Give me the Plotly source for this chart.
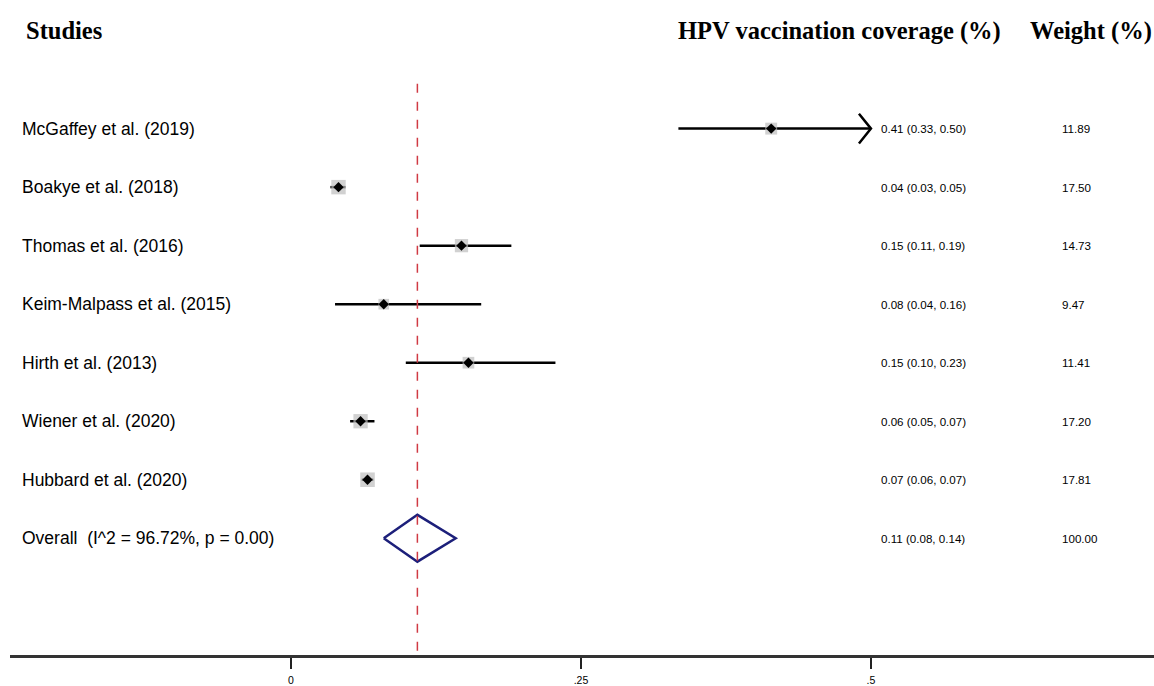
import plotly.graph_objects as go

# ---- data ----
studies = ["McGaffey et al. (2019)", "Boakye et al. (2018)", "Thomas et al. (2016)",
           "Keim-Malpass et al. (2015)", "Hirth et al. (2013)", "Wiener et al. (2020)",
           "Hubbard et al. (2020)"]
est = [0.414, 0.041, 0.147, 0.080, 0.153, 0.060, 0.066]
lo = [0.334, 0.034, 0.111, 0.038, 0.099, 0.051, 0.061]
hi = [0.503, 0.047, 0.190, 0.164, 0.228, 0.072, 0.071]
ci_text = ["0.41 (0.33, 0.50)", "0.04 (0.03, 0.05)", "0.15 (0.11, 0.19)",
           "0.08 (0.04, 0.16)", "0.15 (0.10, 0.23)", "0.06 (0.05, 0.07)",
           "0.07 (0.06, 0.07)"]
weights = [11.89, 17.50, 14.73, 9.47, 11.41, 17.20, 17.81]
overall_label = "Overall  (I^2 = 96.72%, p = 0.00)"
overall_est, overall_lo, overall_hi = 0.109, 0.080, 0.142
overall_text = "0.11 (0.08, 0.14)"
overall_weight = "100.00"
tick_vals = [0, 0.25, 0.5]
tick_text = ["0", ".25", ".5"]
axis_max = 0.5

rows = list(range(1, len(studies) + 1))
overall_row = len(studies) + 1

fig = go.Figure()

# CI lines (clipped at axis_max, with open arrow if truncated)
for r, l, h in zip(rows, lo, hi):
    fig.add_trace(go.Scatter(x=[l, min(h, axis_max)], y=[r, r], mode="lines",
                             line=dict(color="black", width=2.5), hoverinfo="skip",
                             showlegend=False))
    if h > axis_max:
        dx = 12 / 1160
        dy = 15 / 58.7
        fig.add_trace(go.Scatter(x=[axis_max - dx, axis_max, axis_max - dx],
                                 y=[r - dy, r, r + dy], mode="lines",
                                 line=dict(color="black", width=2.5), hoverinfo="skip",
                                 showlegend=False))

# weight boxes
fig.add_trace(go.Scatter(x=est, y=rows, mode="markers",
                         marker=dict(symbol="square", color="#bdbdbd",
                                     size=[3.45 * w ** 0.5 for w in weights],
                                     line=dict(width=0)),
                         hoverinfo="skip", showlegend=False))
# point estimates
fig.add_trace(go.Scatter(x=est, y=rows, mode="markers",
                         marker=dict(symbol="diamond", color="black", size=8),
                         hoverinfo="skip", showlegend=False))

# overall diamond
hd = 23.5 / 58.7
fig.add_trace(go.Scatter(x=[overall_lo, overall_est, overall_hi, overall_est, overall_lo],
                         y=[overall_row, overall_row - hd, overall_row, overall_row + hd, overall_row],
                         mode="lines", line=dict(color="#1c1f7a", width=2.5),
                         hoverinfo="skip", showlegend=False))

# reference line
fig.add_shape(type="line", x0=overall_est, x1=overall_est, y0=0.233, y1=9.995,
              xref="x", yref="y", line=dict(color="#d03a44", width=1.5, dash="dash"))

# labels
label_font = dict(family="Liberation Sans, Arial", size=17.5, color="black")
small_font = dict(family="Liberation Sans, Arial", size=11.6, color="black")
all_rows = rows + [overall_row]
all_labels = studies + [overall_label]
all_ci = ci_text + [overall_text]
all_w = [f"{w:.2f}" for w in weights] + [overall_weight]
for r, s, t, w in zip(all_rows, all_labels, all_ci, all_w):
    fig.add_annotation(x=-0.2336, y=r, xref="x", yref="y", text=s, showarrow=False,
                       xanchor="left", yanchor="middle", font=label_font)
    fig.add_annotation(x=0.5065, y=r, xref="x", yref="y", text=t, showarrow=False,
                       xanchor="left", yanchor="middle", font=small_font)
    fig.add_annotation(x=0.6629, y=r, xref="x", yref="y", text=w, showarrow=False,
                       xanchor="left", yanchor="middle", font=small_font)

head_font = dict(family="Liberation Serif, Times New Roman", size=24.5, color="black")
hy = -0.67
fig.add_annotation(x=-0.2302, y=hy, xref="x", yref="y", text="<b>Studies</b>",
                   showarrow=False, xanchor="left", yanchor="middle", font=head_font)
fig.add_annotation(x=0.3319, y=hy, xref="x", yref="y",
                   text="<b>HPV vaccination coverage (%)</b>",
                   showarrow=False, xanchor="left", yanchor="middle", font=head_font)
fig.add_annotation(x=0.6354, y=hy, xref="x", yref="y", text="<b>Weight (%)</b>",
                   showarrow=False, xanchor="left", yanchor="middle", font=head_font)

fig.update_layout(
    width=1154, height=686,
    margin=dict(l=10, r=0, t=0, b=29),
    plot_bgcolor="white", paper_bgcolor="white",
    xaxis=dict(range=[-0.2422, 0.7440], tickvals=tick_vals, ticktext=tick_text,
               showgrid=False, zeroline=False, showline=True, linecolor="#333333",
               linewidth=2.5, ticks="outside", ticklen=11, tickwidth=1.5,
               tickcolor="#222222", ticklabelstandoff=3,
               tickfont=dict(family="Liberation Sans, Arial", size=10.5, color="black")),
    yaxis=dict(range=[9.995, -1.198], visible=False, showgrid=False, zeroline=False),
)

fig.write_html("out.html", config={"displayModeBar": False},
               post_script="document.body.style.margin='0';document.body.style.overflow='hidden';")
